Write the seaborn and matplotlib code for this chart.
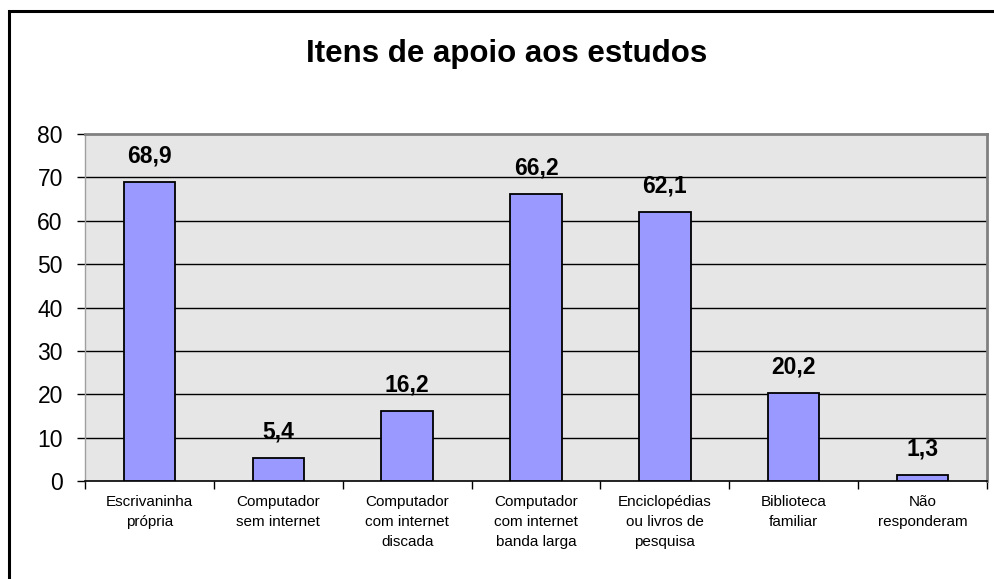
import matplotlib
matplotlib.use("Agg")
import matplotlib.pyplot as plt
import matplotlib.patches as mpatches
import seaborn as sns
import pandas as pd

categories = [
    "Escrivaninha\nprópria",
    "Computador\nsem internet",
    "Computador\ncom internet\ndiscada",
    "Computador\ncom internet\nbanda larga",
    "Enciclopédias\nou livros de\npesquisa",
    "Biblioteca\nfamiliar",
    "Não\nresponderam",
]
values = [68.9, 5.4, 16.2, 66.2, 62.1, 20.2, 1.3]
value_labels = ["68,9", "5,4", "16,2", "66,2", "62,1", "20,2", "1,3"]
y_ticks = [0, 10, 20, 30, 40, 50, 60, 70, 80]
title = "Itens de apoio aos estudos"

sns.set_theme(style="white")
plt.rcParams["font.family"] = ["Liberation Sans", "DejaVu Sans"]
plt.rcParams["text.color"] = "black"
plt.rcParams["xtick.color"] = "black"
plt.rcParams["ytick.color"] = "black"
plt.rcParams["axes.labelcolor"] = "black"

W, H = 995, 579
fig = plt.figure(figsize=(W / 100, H / 100), dpi=100)
fig.patch.set_facecolor("white")

# outer frame
frame = mpatches.Rectangle((8.5 / W, -0.1), 1.2, 1.1 - 10.5 / H, transform=fig.transFigure,
                           fill=False, edgecolor="black", linewidth=2.2, zorder=0)
fig.patches.append(frame)

ax = fig.add_axes([85 / W, 1 - 481 / H, (987 - 85) / W, (481 - 134) / H])
ax.set_facecolor("#E6E6E6")

df = pd.DataFrame({"cat": categories, "val": values})
sns.barplot(data=df, x="cat", y="val", ax=ax, color="#9999FF", saturation=1,
            width=0.4, edgecolor="black", linewidth=1.3, zorder=3)

ax.set_ylim(0, 80)
ax.set_xlim(-0.5, len(categories) - 0.5)
ax.set_yticks(y_ticks)
ax.set_yticklabels([str(t) for t in y_ticks], fontsize=16.5)
ax.set_xlabel("")
ax.set_ylabel("")

for t in y_ticks[1:-1]:
    ax.axhline(t, color="black", linewidth=1.0, zorder=1)

ax.tick_params(axis="y", length=6, width=1, color="black", pad=10, left=True, direction="out",
               labelcolor="black")
ax.tick_params(axis="x", which="major", length=0, pad=10, labelcolor="black")
ax.set_xticks([i - 0.5 for i in range(len(categories) + 1)], minor=True)
ax.tick_params(axis="x", which="minor", length=6, width=1, color="black", bottom=True, direction="out")
for lbl in ax.get_xticklabels():
    lbl.set_fontsize(11)
    lbl.set_linespacing(1.55)
    lbl.set_verticalalignment("top")

for side in ["top", "right"]:
    ax.spines[side].set_visible(True)
    ax.spines[side].set_color("#808080")
    ax.spines[side].set_linewidth(2)
ax.spines["left"].set_color("#A0A0A0")
ax.spines["left"].set_linewidth(1)
ax.spines["bottom"].set_color("black")
ax.spines["bottom"].set_linewidth(1.2)

for i, (v, lab) in enumerate(zip(values, value_labels)):
    ax.annotate(lab, xy=(i, v), xytext=(0, 14), textcoords="offset points",
                ha="center", va="baseline", fontsize=16.5, fontweight="bold",
                color="black", zorder=5)

fig.text(507 / W, 1 - 54 / H, title, ha="center", va="center", fontsize=22.5,
         fontweight="bold", color="black")

fig.savefig("out.png", dpi=100)
